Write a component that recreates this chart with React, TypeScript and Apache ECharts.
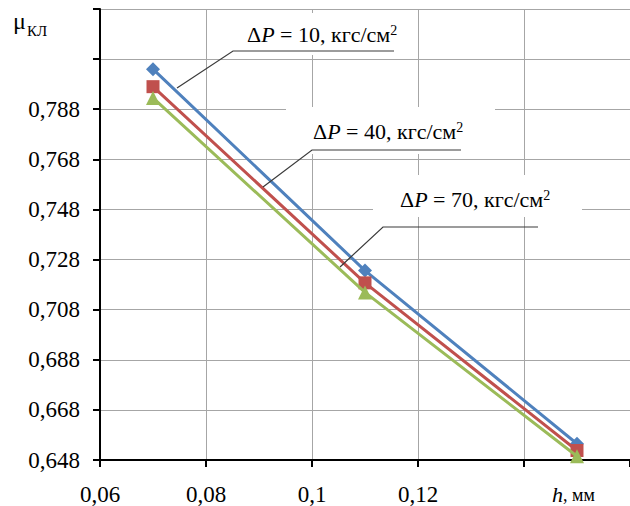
import React, { useEffect, useRef } from 'react';
import * as echarts from 'echarts';

const hValues = [0.07, 0.11, 0.15];
const muDp10 = [0.804, 0.7236, 0.6545];
const muDp40 = [0.797, 0.7187, 0.6518];
const muDp70 = [0.7925, 0.7149, 0.6495];
const seriesNames = ['ΔP=10', 'ΔP=40', 'ΔP=70'];
const seriesColors = ['#4F81BD', '#C0504D', '#9BBB59'];
const seriesSymbols = ['diamond', 'rect', 'triangle'];
const symbolSizes = [14, 13, 14];
const annotationValues = ['10', '40', '70'];
const xTickLabels = [0.06, 0.08, 0.1, 0.12];
const yTickLabels = [0.648, 0.668, 0.688, 0.708, 0.728, 0.748, 0.768, 0.788];

const FONT = 'Liberation Serif';

function fmtX(v: number) {
  return parseFloat(v.toFixed(3)).toString().replace('.', ',');
}
function fmtY(v: number) {
  return v.toFixed(3).replace('.', ',');
}

export default function App() {
  const ref = useRef<HTMLDivElement>(null);
  useEffect(() => {
    if (!ref.current) return;
    const chart = echarts.init(ref.current, undefined, { renderer: 'svg' });
    const allData = [muDp10, muDp40, muDp70];
    const series = allData.map((vals, i) => ({
      name: seriesNames[i],
      type: 'line',
      data: hValues.map((h, j) => [h, vals[j]]),
      symbol: seriesSymbols[i],
      symbolSize: symbolSizes[i],
      showAllSymbol: true,
      lineStyle: { color: seriesColors[i], width: 3 },
      itemStyle: { color: seriesColors[i] },
      z: 3 + i,
    }));

    chart.setOption({
      animation: false,
      backgroundColor: '#fff',
      textStyle: { fontFamily: FONT },
      grid: { left: 100, top: 9, width: 537.5, height: 451, containLabel: false },
      xAxis: {
        type: 'value',
        min: 0.06,
        max: 0.16,
        interval: 0.02,
        axisLine: { show: true, lineStyle: { color: '#000', width: 2 } },
        axisTick: { show: true, length: 7, lineStyle: { color: '#000', width: 2 } },
        axisLabel: { show: false },
        splitLine: { show: true, lineStyle: { color: '#a6a6a6', width: 1 } },
      },
      yAxis: {
        type: 'value',
        min: 0.648,
        max: 0.828,
        interval: 0.02,
        axisLine: { show: true, lineStyle: { color: '#000', width: 2 } },
        axisTick: { show: true, length: 7, lineStyle: { color: '#000', width: 2 } },
        axisLabel: { show: false },
        splitLine: { show: true, lineStyle: { color: '#a6a6a6', width: 1 } },
      },
      series,
    });

    const rich = {
      a: { fontFamily: FONT, fontSize: 22, color: '#000' },
      i: { fontFamily: FONT, fontSize: 22, fontStyle: 'italic', color: '#000' },
      s: { fontFamily: FONT, fontSize: 14, color: '#000', verticalAlign: 'top' },
    };
    const annText = (v: string) => `{a|Δ}{i|P}{a| = ${v}, кгс/см}{s|2}`;

    const boxes = [
      { x: 222, y: 13, width: 195, height: 42 },
      { x: 286, y: 107, width: 209, height: 47 },
      { x: 373, y: 175, width: 209, height: 42 },
    ];
    const leaders = [
      [[177, 88], [233, 51], [394, 51]],
      [[263, 187], [312, 150], [461, 150]],
      [[340, 267], [383, 227], [538, 227]],
    ];
    const textPos = [
      [247, 34.6],
      [313, 131.6],
      [400, 199],
    ];

    const graphic: any[] = [];
    boxes.forEach((b) =>
      graphic.push({ type: 'rect', shape: b, style: { fill: '#fff' }, z: 10, silent: true })
    );
    leaders.forEach((pts) =>
      graphic.push({
        type: 'polyline',
        shape: { points: pts },
        style: { stroke: '#3a3a3a', lineWidth: 1.2, fill: 'none' },
        z: 20,
        silent: true,
      })
    );
    textPos.forEach((p, i) =>
      graphic.push({
        type: 'text',
        x: p[0],
        y: p[1],
        z: 21,
        style: {
          text: annText(annotationValues[i]),
          rich,
          align: 'left',
          verticalAlign: 'middle',
        },
      })
    );

    // Tick labels placed through the chart's own axis scales
    const yMin = yTickLabels[0];
    xTickLabels.forEach((v) => {
      const px = chart.convertToPixel({ gridIndex: 0 }, [v, yMin]) as number[];
      graphic.push({
        type: 'text',
        x: px[0],
        y: 494,
        z: 21,
        style: {
          text: fmtX(v),
          fontFamily: FONT,
          fontSize: 23,
          fill: '#000',
          align: 'center',
          verticalAlign: 'middle',
        },
      });
    });
    yTickLabels.forEach((v) => {
      const px = chart.convertToPixel({ gridIndex: 0 }, [0.06, v]) as number[];
      graphic.push({
        type: 'text',
        x: px[0] - 20,
        y: px[1],
        z: 21,
        style: {
          text: fmtY(v),
          fontFamily: FONT,
          fontSize: 23,
          fill: '#000',
          align: 'right',
          verticalAlign: 'middle',
        },
      });
    });

    graphic.push({
      type: 'text',
      x: 13,
      y: 20.5,
      z: 21,
      style: { text: 'μ', fontFamily: FONT, fontSize: 24, fill: '#000', align: 'left', verticalAlign: 'middle' },
    });
    graphic.push({
      type: 'text',
      x: 27,
      y: 31,
      z: 21,
      style: { text: 'КЛ', fontFamily: FONT, fontSize: 15, fill: '#000', align: 'left', verticalAlign: 'middle' },
    });
    graphic.push({
      type: 'text',
      x: 552,
      y: 494.6,
      z: 21,
      style: {
        text: '{i|h}{a|, мм}',
        rich: {
          i: { fontFamily: FONT, fontSize: 22, fontStyle: 'italic', color: '#000' },
          a: { fontFamily: FONT, fontSize: 18, color: '#000' },
        },
        align: 'left',
        verticalAlign: 'middle',
      },
    });

    chart.setOption({ graphic });
    return () => chart.dispose();
  }, []);
  return (
    <div
      ref={ref}
      style={{ position: 'fixed', left: 0, top: 0, width: 630, height: 506, background: '#fff' }}
    />
  );
}
